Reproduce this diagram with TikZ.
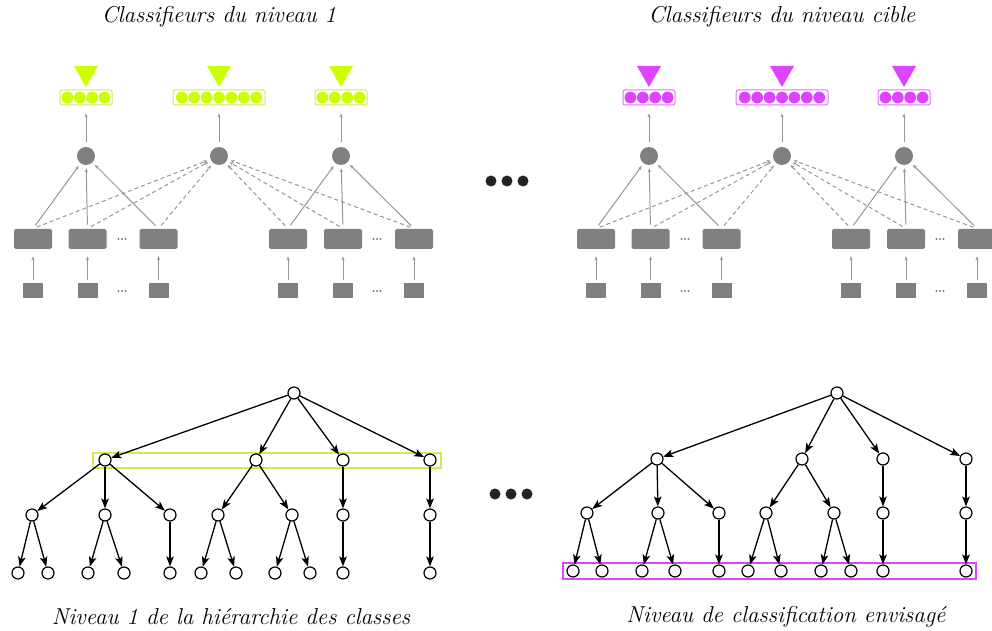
\documentclass[tikz,border=0pt]{standalone}
\usetikzlibrary{arrows.meta}
\definecolor{lime}{RGB}{204,255,0}
\definecolor{limeedge}{RGB}{208,236,80}
\definecolor{mag}{RGB}{221,68,255}
\definecolor{magedge}{RGB}{225,110,255}
\definecolor{gfill}{RGB}{128,128,128}
\definecolor{gline}{RGB}{150,150,150}
\definecolor{dotc}{RGB}{34,34,34}
\begin{document}
\begin{tikzpicture}[x=0.5pt,y=-0.5pt,
  bigrect/.style={rectangle,fill=gfill,minimum width=19pt,minimum height=10pt,inner sep=0pt,rounded corners=0.8pt},
  smallsq/.style={rectangle,fill=gfill,minimum width=10pt,minimum height=7.5pt,inner sep=0pt},
  hcirc/.style={circle,fill=gfill,minimum size=9pt,inner sep=0pt},
  outbox/.style={rectangle,draw=#1,line width=0.5pt,rounded corners=1pt,minimum height=7.5pt,inner sep=0pt},
  garrow/.style={draw=gline,line width=0.5pt,-{Stealth[length=2pt,width=1.6pt]}},
  gdash/.style={garrow,dash pattern=on 2pt off 1.5pt},
  tnode/.style={circle,draw=black,fill=white,line width=0.6pt,minimum size=6pt,inner sep=0pt},
  tarrow/.style={draw=black,line width=0.65pt,-{Stealth[length=5pt,width=3.8pt,inset=1.2pt]}},
  lbl/.style={font=\fontsize{11.5}{13}\selectfont\itshape,inner sep=0pt},
  bigdot/.style={circle,fill=dotc,minimum size=5.5pt,inner sep=0pt}
]
\useasboundingbox (0,0) rectangle (992,631);
\clip (0,0) rectangle (992,631);

% titles
\node[lbl] (t1) at (219,17) {Classifieurs du niveau 1};
\node[lbl] (t2) at (782,17) {Classifieurs du niveau cible};
\node[lbl] (t3) at (231,617) {Niveau 1 de la hiérarchie des classes};
\node[lbl] (t4) at (786,617) {Niveau de classification envisagé};

% top networks
\foreach \s/\d/\col/\edg in {A/0/lime/limeedge, B/563/mag/magedge} {
  % hidden circles
  \foreach \k/\x/\n/\w in {1/86/4/26, 2/219/7/46, 3/341/4/26} {
    \node[hcirc] (h\s\k) at (\x+\d,156) {};
    \node[outbox=\edg,minimum width=\w pt] (o\s\k) at (\x+\d,97.5) {};
    \foreach \i in {1,...,\n} {
      \fill[\col] (\x+\d+\i*12.4-\n*6.2-6.2,97.5) circle (2.95pt);
    }
    \fill[\col] (\x+\d-12,66) -- (\x+\d+12,66) -- (\x+\d,87) -- cycle;
    \draw[garrow,shorten <=2.5pt,shorten >=4pt] (h\s\k.north) -- (o\s\k.south);
  }
  % inputs
  \foreach \i/\x in {1/33,2/87.5,3/158.5,4/288,5/343,6/414} {
    \node[bigrect] (r\s\i) at (\x+\d,239) {};
    \node[smallsq] (q\s\i) at (\x+\d,290.5) {};
    \draw[garrow,shorten <=1.5pt,shorten >=3.5pt] (q\s\i.north) -- (r\s\i.south);
    \draw[gdash,shorten <=2pt,shorten >=1.5pt] (r\s\i.north) -- (h\s2);
  }
  \foreach \i in {1,2,3} {
    \draw[garrow,shorten <=2pt,shorten >=1.5pt] (r\s\i.north) -- (h\s1);
  }
  \foreach \i in {4,5,6} {
    \draw[garrow,shorten <=2pt,shorten >=1.5pt] (r\s\i.north) -- (h\s3);
  }
  % small ellipsis dots
  \foreach \x in {122,377} {
    \foreach \y in {239,291} {
      \foreach \o in {-3.5,0,3.5} {
        \fill[gfill] (\x+\d+\o,\y) circle (0.6pt);
      }
    }
  }
}

% big ellipsis
\node[bigdot] (e1) at (491,181) {};
\node[bigdot] (e2) at (507,181) {};
\node[bigdot] (e3) at (523,181) {};
\node[bigdot] (e4) at (495,494) {};
\node[bigdot] (e5) at (511,494) {};
\node[bigdot] (e6) at (527,494) {};

% highlight boxes
\draw[limeedge,line width=1pt] (93,453) rectangle (441,468);
\draw[mag,line width=1pt] (563,563) rectangle (976,579);

% left tree
\node[tnode] (La-0-1) at (294,393) {};
\foreach \n/\x in {1/105,2/256,3/343,4/430} \node[tnode] (La-1-\n) at (\x,460) {};
\foreach \n/\x in {1/32,2/105,3/170,4/218,5/292,6/343,7/430} \node[tnode] (La-2-\n) at (\x,515) {};
\foreach \n/\x in {1/18,2/48,3/88,4/124,5/170,6/201,7/236,8/275,9/310,10/343,11/430} \node[tnode] (La-3-\n) at (\x,573) {};

% right tree
\node[tnode] (Ra-0-1) at (837,393) {};
\foreach \n/\x in {1/657,2/802,3/883,4/966} \node[tnode] (Ra-1-\n) at (\x,459) {};
\foreach \n/\x in {1/587,2/658,3/719,4/766,5/834,6/883,7/966} \node[tnode] (Ra-2-\n) at (\x,513) {};
\foreach \n/\x in {1/573,2/602,3/642,4/675,5/719,6/748,7/781,8/821,9/851,10/883,11/966} \node[tnode] (Ra-3-\n) at (\x,571) {};

\foreach \t in {La,Ra} {
  \foreach \a/\b in {0-1/1-1,0-1/1-2,0-1/1-3,0-1/1-4,1-1/2-1,1-1/2-2,1-1/2-3,1-2/2-4,1-2/2-5,1-3/2-6,1-4/2-7,2-1/3-1,2-1/3-2,2-2/3-3,2-2/3-4,2-3/3-5,2-4/3-6,2-4/3-7,2-5/3-8,2-5/3-9,2-6/3-10,2-7/3-11} {
    \draw[tarrow] (\t-\a) -- (\t-\b);
  }
}
\end{tikzpicture}
\end{document}
